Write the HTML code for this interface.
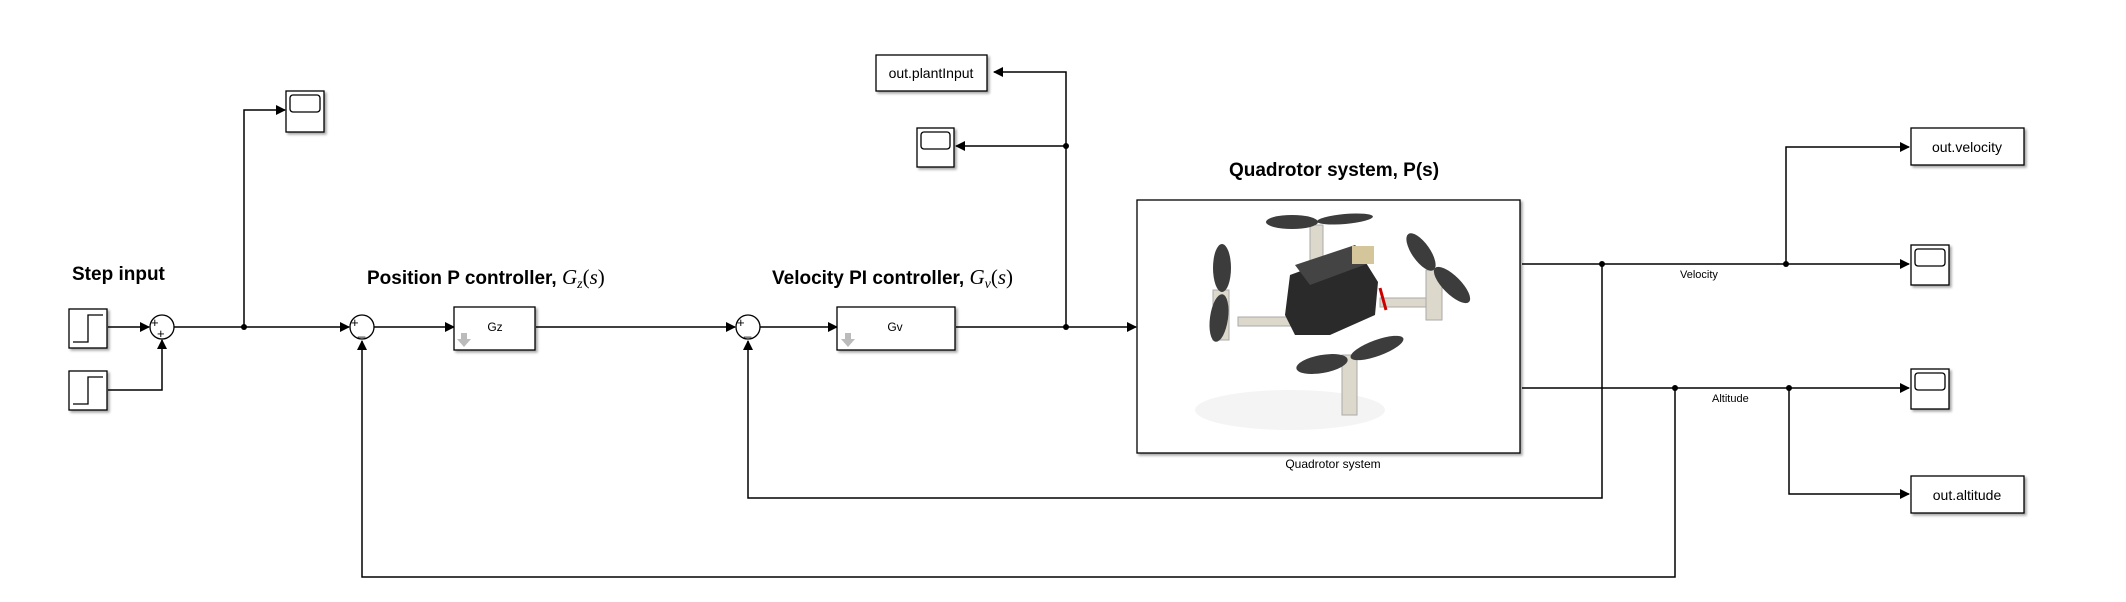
<!DOCTYPE html>
<html><head><meta charset="utf-8"><style>
html,body{margin:0;padding:0;background:#fff;}
svg{display:block;}
text{font-family:"Liberation Sans",sans-serif;}
</style></head><body>
<svg width="2126" height="602" viewBox="0 0 2126 602" xmlns="http://www.w3.org/2000/svg">
<defs>
<marker id="a" markerWidth="10" markerHeight="10" refX="9" refY="5" orient="auto" markerUnits="userSpaceOnUse"><path d="M0,0 L10,5 L0,10 z" fill="#000"/></marker>
<filter id="sh" x="-10%" y="-10%" width="130%" height="130%"><feDropShadow dx="2" dy="2" stdDeviation="1.2" flood-color="#000" flood-opacity="0.35"/></filter>
</defs>
<g fill="none" stroke="#000" stroke-width="1.5">
<line x1="108" y1="327" x2="149" y2="327" marker-end="url(#a)"/>
<polyline points="108,390 162,390 162,340" marker-end="url(#a)"/>
<line x1="174" y1="327" x2="349" y2="327" marker-end="url(#a)"/>
<polyline points="244,327 244,110 285,110" marker-end="url(#a)"/>
<line x1="374" y1="327" x2="454" y2="327" marker-end="url(#a)"/>
<line x1="536" y1="327" x2="735" y2="327" marker-end="url(#a)"/>
<line x1="760" y1="327" x2="837" y2="327" marker-end="url(#a)"/>
<line x1="956" y1="327" x2="1136" y2="327" marker-end="url(#a)"/>
<polyline points="1066,327 1066,72 994,72" marker-end="url(#a)"/>
<line x1="1066" y1="146" x2="956" y2="146" marker-end="url(#a)"/>
<line x1="1522" y1="264" x2="1909" y2="264" marker-end="url(#a)"/>
<polyline points="1786,264 1786,147 1909,147" marker-end="url(#a)"/>
<polyline points="1602,264 1602,498 748,498 748,341" marker-end="url(#a)"/>
<line x1="1522" y1="388" x2="1909" y2="388" marker-end="url(#a)"/>
<polyline points="1789,388 1789,494 1909,494" marker-end="url(#a)"/>
<polyline points="1675,388 1675,577 362,577 362,341" marker-end="url(#a)"/>
</g>
<g fill="#000">
<circle cx="244" cy="327" r="3"/><circle cx="1066" cy="327" r="3"/><circle cx="1066" cy="146" r="3"/>
<circle cx="1602" cy="264" r="3"/><circle cx="1786" cy="264" r="3"/><circle cx="1675" cy="388" r="3"/><circle cx="1789" cy="388" r="3"/>
</g>
<g fill="#fff" stroke="#000" stroke-width="1.3">
<circle cx="162" cy="327" r="12"/><circle cx="362" cy="327" r="12"/><circle cx="748" cy="327" r="12"/>
</g>
<g font-size="13" fill="#000">
<text x="151" y="327">+</text><text x="157" y="338">+</text>
<text x="351" y="327">+</text><text x="358" y="335">_</text>
<text x="737" y="327">+</text><text x="744" y="335">_</text>
</g>
<g fill="#fff" stroke="#000" stroke-width="1.3" filter="url(#sh)">
<rect x="69" y="309" width="38" height="39"/><rect x="69" y="371" width="38" height="39"/>
<rect x="286" y="91" width="38" height="41"/>
<rect x="454" y="307" width="81" height="43"/>
<rect x="837" y="307" width="118" height="43"/>
<rect x="876" y="55" width="111" height="36"/>
<rect x="917" y="128" width="37" height="39"/>
<rect x="1137" y="200" width="383" height="253"/>
<rect x="1911" y="128" width="113" height="37"/>
<rect x="1911" y="245" width="38" height="40"/>
<rect x="1911" y="369" width="38" height="40"/>
<rect x="1911" y="476" width="113" height="37"/>
</g>
<g fill="none" stroke="#000" stroke-width="1.3">
<polyline points="73,342 88,342 88,315 103,315"/>
<polyline points="73,404 88,404 88,377 103,377"/>
<rect x="290" y="95" width="30" height="17" rx="3"/>
<rect x="921" y="132" width="29" height="17" rx="3"/>
<rect x="1915" y="249" width="30" height="17" rx="3"/>
<rect x="1915" y="373" width="30" height="17" rx="3"/>
</g>
<g fill="#bbb"><path d="M461,333 h6 v6 h4 l-7,8 l-7,-8 h4z"/><path d="M845,333 h6 v6 h4 l-7,8 l-7,-8 h4z"/></g>
<g>
<ellipse cx="1290" cy="410" rx="95" ry="20" fill="#f4f4f4"/>
<g fill="#ddd8cc" stroke="#aaa" stroke-width="1">
<rect x="1238" y="317" width="80" height="9"/><rect x="1380" y="298" width="60" height="9"/>
<rect x="1310" y="225" width="13" height="45"/><rect x="1213" y="290" width="16" height="50"/>
<rect x="1426" y="270" width="16" height="50"/><rect x="1342" y="355" width="15" height="60"/>
</g>
<path d="M1290,275 L1358,250 L1378,282 L1375,315 L1330,335 L1295,335 L1285,315 Z" fill="#2a2a2a"/>
<path d="M1295,265 L1355,245 L1372,262 L1310,285 Z" fill="#444"/>
<rect x="1352" y="246" width="22" height="18" fill="#d4c69a"/>
<path d="M1380,288 l6,22" stroke="#c00" stroke-width="3"/>
<g fill="#3c3c3c">
<ellipse cx="1292" cy="222" rx="26" ry="7"/><ellipse cx="1345" cy="219" rx="28" ry="5" transform="rotate(-5 1345 219)"/>
<ellipse cx="1222" cy="268" rx="9" ry="24"/><ellipse cx="1219" cy="318" rx="9" ry="24" transform="rotate(8 1219 318)"/>
<ellipse cx="1421" cy="252" rx="9" ry="22" transform="rotate(-35 1421 252)"/><ellipse cx="1452" cy="285" rx="9" ry="24" transform="rotate(-45 1452 285)"/>
<ellipse cx="1322" cy="364" rx="26" ry="9" transform="rotate(-10 1322 364)"/><ellipse cx="1377" cy="348" rx="28" ry="8" transform="rotate(-20 1377 348)"/>
</g>
</g>
<g fill="#000">
<text x="72" y="280" font-size="19" font-weight="bold">Step input</text>
<text x="367" y="284" font-size="19" font-weight="bold">Position P controller, <tspan font-family="Liberation Serif" font-style="italic" font-weight="normal" font-size="21">G</tspan><tspan font-family="Liberation Serif" font-style="italic" font-weight="normal" font-size="14" dy="4">z</tspan><tspan font-family="Liberation Serif" font-weight="normal" font-size="21" dy="-4">(</tspan><tspan font-family="Liberation Serif" font-style="italic" font-weight="normal" font-size="21">s</tspan><tspan font-family="Liberation Serif" font-weight="normal" font-size="21">)</tspan></text>
<text x="772" y="284" font-size="19" font-weight="bold">Velocity PI controller, <tspan font-family="Liberation Serif" font-style="italic" font-weight="normal" font-size="21">G</tspan><tspan font-family="Liberation Serif" font-style="italic" font-weight="normal" font-size="14" dy="4">v</tspan><tspan font-family="Liberation Serif" font-weight="normal" font-size="21" dy="-4">(</tspan><tspan font-family="Liberation Serif" font-style="italic" font-weight="normal" font-size="21">s</tspan><tspan font-family="Liberation Serif" font-weight="normal" font-size="21">)</tspan></text>
<text x="1334" y="176" font-size="19" font-weight="bold" text-anchor="middle">Quadrotor system, P(s)</text>
<text x="1333" y="468" font-size="12" text-anchor="middle">Quadrotor system</text>
<text x="495" y="331" font-size="12" text-anchor="middle">Gz</text>
<text x="895" y="331" font-size="12" text-anchor="middle">Gv</text>
<text x="931" y="78" font-size="14" text-anchor="middle">out.plantInput</text>
<text x="1967" y="152" font-size="14" text-anchor="middle">out.velocity</text>
<text x="1967" y="500" font-size="14" text-anchor="middle">out.altitude</text>
<text x="1680" y="278" font-size="11">Velocity</text>
<text x="1712" y="402" font-size="11">Altitude</text>
</g>
</svg>
</body></html>
